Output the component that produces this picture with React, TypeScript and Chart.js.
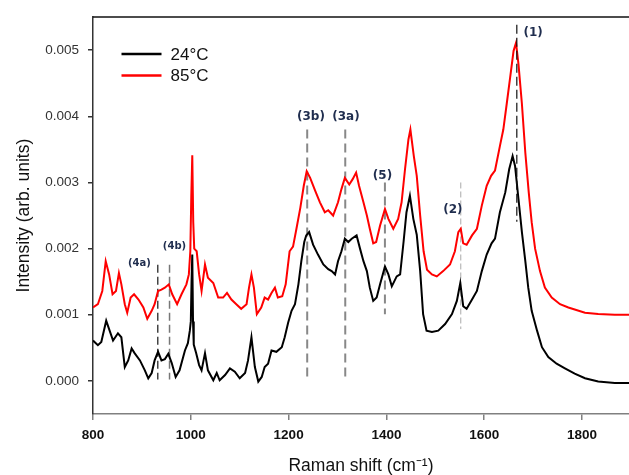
import React, { useEffect, useRef } from 'react';
import { Chart, registerables } from 'chart.js';

Chart.register(...registerables);

// ---- data (Raman shift in cm^-1, intensity in arb. units) ----
const shift24 = [
  800, 810, 817, 827, 834, 841, 851, 858, 865, 872,
  879, 885, 896, 906, 913, 920, 926, 933, 940, 947,
  954, 961, 969, 977, 988, 994, 998, 1000, 1001.5, 1003,
  1004.5, 1006, 1011, 1017, 1022, 1029, 1035, 1046, 1053, 1059,
  1070, 1080, 1090, 1100, 1111, 1117, 1124, 1131, 1138, 1145,
  1151, 1158, 1165, 1175, 1186, 1192, 1199, 1206, 1213, 1220,
  1226, 1232, 1236, 1242, 1250, 1260, 1271, 1281, 1288, 1295,
  1301, 1308, 1315, 1322, 1329, 1339, 1346, 1353, 1360, 1366,
  1373, 1380, 1387, 1397, 1404, 1411, 1421, 1428, 1435, 1441,
  1448, 1455, 1462, 1469, 1475, 1482, 1493, 1506, 1520, 1534,
  1544, 1551, 1557, 1564, 1575, 1585, 1595, 1605, 1615, 1622,
  1632, 1643, 1651, 1658, 1663, 1670, 1677, 1684, 1690, 1697,
  1708, 1718, 1731, 1748, 1765, 1785, 1806, 1833, 1867, 1900,
];
const intensity24 = [
  0.00061, 0.00054, 0.00059, 0.00091, 0.00076, 0.00061, 0.00072, 0.00066, 0.00021, 0.00031,
  0.00049, 0.00042, 0.00031, 0.00016, 0.00004, 0.00012, 0.00031, 0.00044, 0.00031, 0.00033,
  0.00041, 0.00027, 0.00006, 0.00016, 0.00046, 0.00057, 0.00076, 0.00090, 0.00150, 0.00191,
  0.00090, 0.00055, 0.00042, 0.00024, 0.00016, 0.00042, 0.00016, 0.00001, 0.00012, 0.00001,
  0.00009, 0.00019, 0.00014, 0.00004, 0.00012, 0.00031, 0.00066, 0.00021, -0.00001, 0.00006,
  0.00021, 0.00026, 0.00046, 0.00044, 0.00051, 0.00066, 0.00088, 0.00106, 0.00116, 0.00146,
  0.00181, 0.00210, 0.00220, 0.00225, 0.00206, 0.00191, 0.00176, 0.00169, 0.00166, 0.00161,
  0.00181, 0.00196, 0.00215, 0.00210, 0.00215, 0.00220, 0.00200, 0.00181, 0.00166, 0.00141,
  0.00121, 0.00126, 0.00146, 0.00173, 0.00161, 0.00143, 0.00158, 0.00161, 0.00210, 0.00255,
  0.00280, 0.00245, 0.00221, 0.00166, 0.00101, 0.00076, 0.00074, 0.00076, 0.00086, 0.00101,
  0.00121, 0.00148, 0.00113, 0.00109, 0.00123, 0.00136, 0.00166, 0.00191, 0.00208, 0.00215,
  0.00255, 0.00285, 0.00320, 0.00340, 0.00325, 0.00275, 0.00225, 0.00181, 0.00141, 0.00106,
  0.00076, 0.00051, 0.00036, 0.00026, 0.00019, 0.00011, 0.00004, -0.00001, -0.00003, -0.00003,
];
const shift85 = [
  800, 810, 819, 826, 833, 840, 847, 853, 858, 865,
  870, 877, 884, 893, 903, 911, 920, 926, 933, 940,
  947, 955, 962, 972, 981, 991, 996, 999, 1001, 1003,
  1005, 1007, 1012, 1017, 1022, 1029, 1035, 1046, 1056, 1066,
  1074, 1083, 1093, 1103, 1114, 1119, 1124, 1129, 1135, 1144,
  1151, 1158, 1165, 1172, 1178, 1187, 1194, 1202, 1209, 1216,
  1224, 1231, 1237, 1244, 1254, 1264, 1274, 1281, 1291, 1301,
  1308, 1315, 1324, 1331, 1338, 1344, 1353, 1360, 1366, 1373,
  1379, 1387, 1397, 1404, 1414, 1424, 1431, 1438, 1445, 1449,
  1456, 1462, 1469, 1476, 1483, 1493, 1503, 1516, 1530, 1540,
  1547, 1552, 1557, 1564, 1575, 1585, 1595, 1605, 1614, 1622,
  1632, 1639, 1646, 1653, 1660, 1665, 1670, 1677, 1684, 1691,
  1697, 1704, 1714, 1724, 1738, 1755, 1772, 1785, 1806, 1833,
  1867, 1900,
];
const intensity85 = [
  0.00111, 0.00116, 0.00136, 0.00181, 0.00161, 0.00131, 0.00136, 0.00163, 0.00146, 0.00116,
  0.00103, 0.00126, 0.00131, 0.00123, 0.00111, 0.00094, 0.00106, 0.00116, 0.00136, 0.00138,
  0.00141, 0.00146, 0.00131, 0.00116, 0.00131, 0.00146, 0.00161, 0.00196, 0.00280, 0.00341,
  0.00240, 0.00200, 0.00196, 0.00161, 0.00136, 0.00176, 0.00156, 0.00148, 0.00126, 0.00126,
  0.00133, 0.00123, 0.00116, 0.00109, 0.00116, 0.00141, 0.00161, 0.00141, 0.00101, 0.00111,
  0.00126, 0.00123, 0.00133, 0.00141, 0.00126, 0.00128, 0.00146, 0.00196, 0.00203, 0.00230,
  0.00262, 0.00295, 0.00317, 0.00307, 0.00288, 0.00270, 0.00255, 0.00258, 0.00250, 0.00270,
  0.00290, 0.00307, 0.00297, 0.00305, 0.00315, 0.00295, 0.00270, 0.00250, 0.00230, 0.00208,
  0.00210, 0.00235, 0.00260, 0.00245, 0.00230, 0.00245, 0.00270, 0.00320, 0.00365, 0.00380,
  0.00340, 0.00310, 0.00250, 0.00196, 0.00168, 0.00161, 0.00158, 0.00166, 0.00176, 0.00196,
  0.00225, 0.00230, 0.00208, 0.00206, 0.00220, 0.00230, 0.00265, 0.00295, 0.00310, 0.00318,
  0.00355, 0.00380, 0.00419, 0.00459, 0.00499, 0.00511, 0.00479, 0.00419, 0.00345, 0.00285,
  0.00240, 0.00200, 0.00166, 0.00141, 0.00126, 0.00116, 0.00111, 0.00108, 0.00103, 0.00101,
  0.00100, 0.00100,
];
const seriesLabels = ['24°C', '85°C'];

const xTicks = [800, 1000, 1200, 1400, 1600, 1800];
const yTicks = [0, 0.001, 0.002, 0.003, 0.004, 0.005];

// band markers (dashed guide lines + labels), in data units
const bandLabels = ['(1)', '(2)', '(3b)', '(3a)', '(5)', '(4a)', '(4b)'];
const bandShift = [1666.6, 1552, 1238, 1315.8, 1396.9, 932.4, 956.5];
const bandLineTop = [0.005385, 0.003, 0.0038, 0.0038, 0.003, 0.001755, 0.001755];
const bandLineBottom = [0.002405, 0.000784, 0.00002, 0.00002, 0.001008, 0.00002, 0.00002];
const bandLabelShift = [1700, 1536, 1245.6, 1317.2, 1392, 895, 966.6];
const bandLabelIntensity = [0.005265, 0.002584, 0.003996, 0.003996, 0.003099, 0.00177, 0.00204];

// ---- styles ----
const FONT = '"Liberation Sans", Arial, sans-serif';
const seriesColors = ['#000000', '#ff0000'];
const bandLineStyles = [
  { color: '#111111', width: 1.2, dash: [9, 4] },
  { color: '#aaaaaa', width: 1, dash: [6, 3] },
  { color: '#888888', width: 2, dash: [9, 5] },
  { color: '#888888', width: 2, dash: [9, 5] },
  { color: '#888888', width: 2, dash: [9, 5] },
  { color: '#444444', width: 1.5, dash: [8, 4] },
  { color: '#777777', width: 1.5, dash: [8, 4] },
];
const smallBandLabels = ['(4a)', '(4b)'];

const decorPlugin = {
  id: 'decor',
  afterDatasetsDraw(chart: any) {
    const { ctx, chartArea, scales } = chart;
    ctx.save();
    // top frame line
    ctx.strokeStyle = '#111111';
    ctx.lineWidth = 1.5;
    ctx.beginPath();
    ctx.moveTo(chartArea.left, chartArea.top);
    ctx.lineTo(chartArea.right, chartArea.top);
    ctx.stroke();

    // band labels
    ctx.fillStyle = '#1f2d4e';
    ctx.textAlign = 'center';
    ctx.textBaseline = 'middle';
    bandLabels.forEach((t, i) => {
      const size = smallBandLabels.includes(t) ? 10 : 12;
      ctx.font = `bold ${size}px "DejaVu Sans", Verdana, sans-serif`;
      ctx.fillText(
        t,
        scales.x.getPixelForValue(bandLabelShift[i]),
        scales.y.getPixelForValue(bandLabelIntensity[i])
      );
    });

    // legend
    const ds = chart.data.datasets.slice(0, 2);
    ds.forEach((d: any, i: number) => {
      const y = chartArea.top + 37 + i * 21.4;
      const x0 = chartArea.left + 28.5;
      ctx.strokeStyle = d.borderColor;
      ctx.lineWidth = 2.5;
      ctx.setLineDash([]);
      ctx.beginPath();
      ctx.moveTo(x0, y);
      ctx.lineTo(x0 + 40, y);
      ctx.stroke();
      ctx.fillStyle = '#111111';
      ctx.font = `17px ${FONT}`;
      ctx.textAlign = 'left';
      ctx.textBaseline = 'middle';
      ctx.fillText(d.label, x0 + 49, y + 1);
    });
    ctx.restore();
  },
};

export default function App() {
  const ref = useRef<HTMLCanvasElement | null>(null);

  useEffect(() => {
    if (!ref.current) return;
    const series = [
      { x: shift24, y: intensity24 },
      { x: shift85, y: intensity85 },
    ].map((s, k) => ({
      label: seriesLabels[k],
      data: s.x.map((x, i) => ({ x, y: s.y[i] })),
      borderColor: seriesColors[k],
      backgroundColor: seriesColors[k],
      borderWidth: 2,
      pointRadius: 0,
      tension: 0,
      order: 0,
    }));
    const bands = bandShift.map((x, i) => ({
      label: bandLabels[i],
      data: [
        { x, y: bandLineTop[i] },
        { x, y: bandLineBottom[i] },
      ],
      borderColor: bandLineStyles[i].color,
      borderWidth: bandLineStyles[i].width,
      borderDash: bandLineStyles[i].dash,
      pointRadius: 0,
      order: i === 0 ? -1 : 1,
    }));

    const chart = new Chart(ref.current, {
      type: 'line',
      data: { datasets: [...series, ...bands] as any },
      options: {
        animation: false,
        responsive: false,
        devicePixelRatio: 1,
        layout: { padding: { top: 12, right: 0, bottom: 0, left: 0 } },
        plugins: {
          legend: { display: false },
          tooltip: { enabled: false },
        },
        scales: {
          x: {
            type: 'linear',
            min: 800,
            max: 1896,
            afterBuildTicks: (s: any) => {
              s.ticks = xTicks.map((v) => ({ value: v }));
            },
            afterFit: (s: any) => {
              s.height = 61;
            },
            border: { display: true, color: '#808080', width: 1.5 },
            grid: { display: true, drawOnChartArea: false, drawTicks: true, tickLength: 6, color: '#808080', lineWidth: 1.5 },
            ticks: {
              font: { family: FONT, size: 13.5, weight: 'bold' },
              color: '#111111',
              padding: 7,
              maxRotation: 0,
              callback: (v: any) => String(v),
            },
            title: {
              display: true,
              text: 'Raman shift (cm⁻¹)',
              font: { family: FONT, size: 17.5, lineHeight: 1 },
              color: '#111111',
              padding: { top: 0, bottom: 0 },
            },
          },
          y: {
            type: 'linear',
            min: -0.0005,
            max: 0.0055,
            afterBuildTicks: (s: any) => {
              s.ticks = yTicks.map((v) => ({ value: v }));
            },
            afterFit: (s: any) => {
              s.width = 93;
            },
            border: { display: true, color: '#333333', width: 1.5 },
            grid: { display: true, drawOnChartArea: false, drawTicks: true, tickLength: 5, color: '#333333', lineWidth: 1.5 },
            ticks: {
              font: { family: FONT, size: 13.5 },
              color: '#333333',
              padding: 9,
              callback: (v: any) => Number(v).toFixed(3),
            },
            title: {
              display: true,
              text: 'Intensity (arb. units)',
              font: { family: FONT, size: 17.5, lineHeight: 1 },
              color: '#111111',
              padding: { top: 15, bottom: 0 },
            },
          },
        },
      } as any,
      plugins: [decorPlugin],
    });
    return () => chart.destroy();
  }, []);

  return (
    <div style={{ position: 'absolute', left: 0, top: 0, width: 629, height: 475, background: '#ffffff' }}>
      <canvas ref={ref} width={629} height={475} style={{ display: 'block' }} />
    </div>
  );
}
